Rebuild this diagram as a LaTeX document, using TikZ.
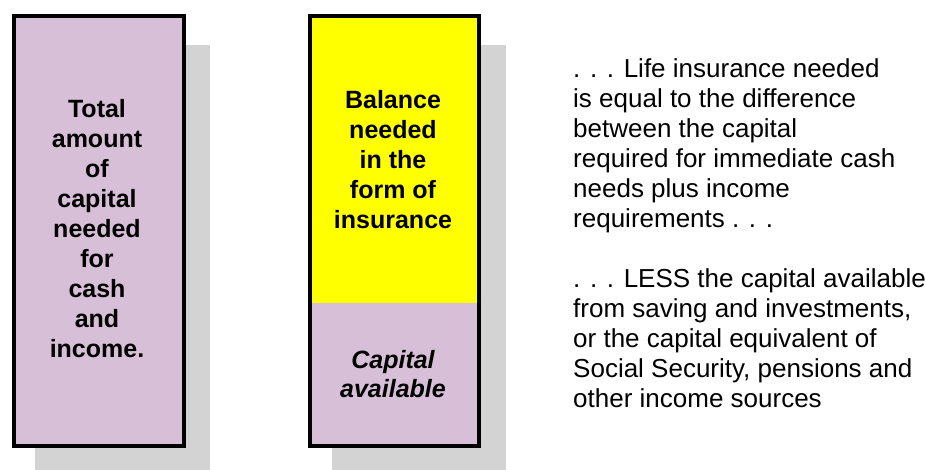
\documentclass[tikz,border=0pt]{standalone}
\usepackage{fontspec}
\setmainfont{Liberation Sans}
\definecolor{lilac}{HTML}{D8BFD8}
\definecolor{shadegray}{HTML}{D3D3D3}
\definecolor{insyellow}{HTML}{FFFF00}
\begin{document}
\begin{tikzpicture}[x=1pt,y=-1pt,
  shadowbox/.style={fill=shadegray},
  barbox/.style={draw=black,line width=4pt,inner sep=0pt,anchor=north west},
  part/.style={inner sep=0pt,anchor=north west},
  bartext/.style={align=center,font=\fontsize{25}{30}\selectfont\bfseries},
  note/.style={align=left,inner sep=0pt,font=\fontsize{26}{30}\selectfont}]
\useasboundingbox (0,0) rectangle (925,470);
% drop shadows behind the two bars
\fill[shadowbox] (35,45) rectangle (210,470);
\fill[shadowbox] (332,45) rectangle (506,470);
% bar of total capital needed
\node[barbox,fill=lilac,minimum width=170pt,minimum height=430pt] (total) at (12,14) {};
\node[bartext] (totaltxt) at (97,229) {Total\\amount\\of\\capital\\needed\\for\\cash\\and\\income.};
% split bar: insurance on top, available capital below
\node[part,fill=insyellow,minimum width=169pt,minimum height=289pt] (insur) at (308,14) {};
\node[part,fill=lilac,minimum width=169pt,minimum height=141pt] (avail) at (308,303) {};
\node[barbox,minimum width=169pt,minimum height=430pt] (split) at (308,14) {};
\node[bartext] (insurtxt) at (393,160) {Balance\\needed\\in the\\form of\\insurance};
\node[bartext,font=\fontsize{25}{29}\selectfont\bfseries\itshape] (availtxt) at (393,374) {Capital\\available};
% explanation
\node[note,anchor=west] (expl) at (573,233) {. . . Life insurance needed\\is equal to the difference\\between the capital\\required for immediate cash\\needs plus income\\requirements . . .\\[30pt]. . . LESS the capital available\\from saving and investments,\\or the capital equivalent of\\Social Security, pensions and\\other income sources};
\end{tikzpicture}
\end{document}
